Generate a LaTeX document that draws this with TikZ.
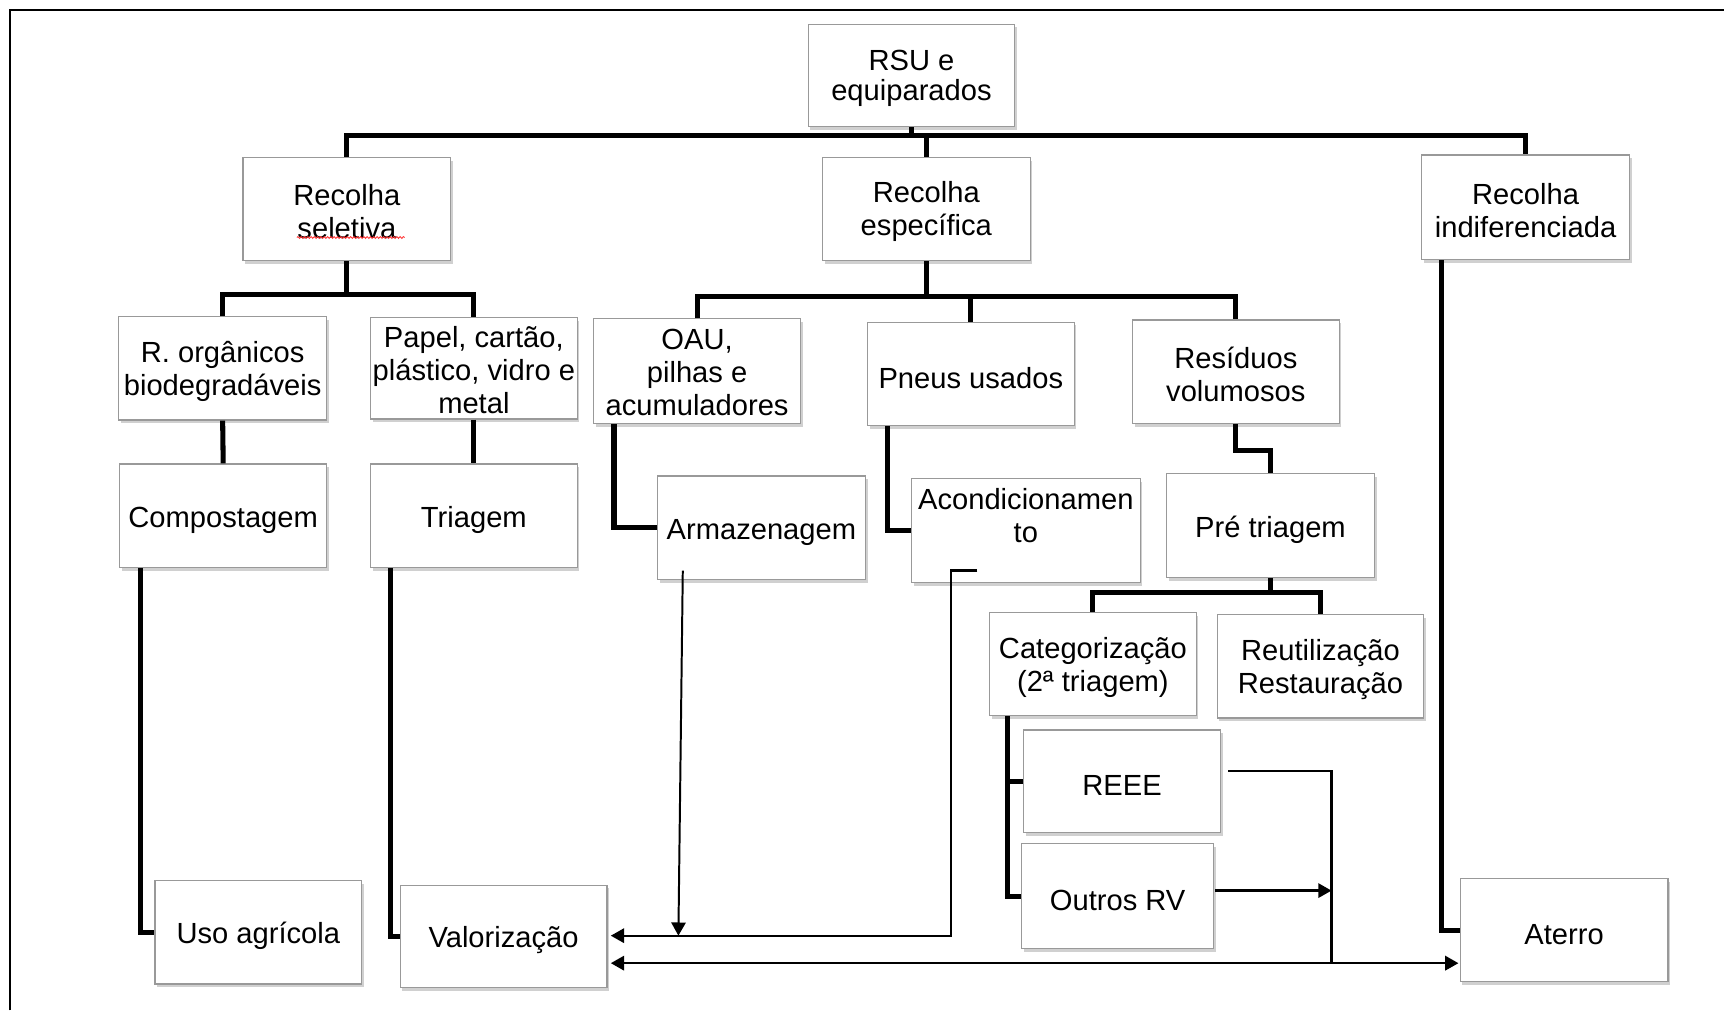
\documentclass[tikz,border=0pt]{standalone}
\usepackage{fontspec}
\setmainfont{Liberation Sans}
\usetikzlibrary{arrows.meta,shadows,decorations.pathmorphing}
\newcommand\tup[1]{\rule{0pt}{#1pt}}
\begin{document}
\begin{tikzpicture}[x=1pt,y=-1pt,
  box/.style={draw=black!40, line width=1.1pt, fill=white, inner sep=0pt, align=center,
    font=\fontsize{26.5}{30}\selectfont, minimum width=188pt, minimum height=94pt,
    drop shadow={shadow xshift=2pt, shadow yshift=-3pt, opacity=0.3, fill=black!60}},
  txt/.style={inner sep=0pt, align=center, font=\fontsize{26.5}{30}\selectfont},
  conn/.style={line width=4.6pt},
  thinline/.style={line width=2.1pt},
  arr/.style={thinline, -{Triangle[length=12pt,width=13pt]}},
  darr/.style={thinline, {Triangle[length=12pt,width=13pt]}-{Triangle[length=12pt,width=13pt]}},
]
\useasboundingbox (0,0) rectangle (1568,919);
\fill[white] (0,0) rectangle (1568,919);
% frame
\draw[line width=2.5pt] (9,919) -- (9,9) -- (1568,9);

% coordinates
\coordinate (topbar) at (0,123);
\coordinate (bar2) at (0,268);
\coordinate (bar3) at (0,270);
\coordinate (bar4) at (0,539);
\coordinate (vline) at (0,851);
\coordinate (lowline) at (0,876);
\coordinate (armout) at (621,519);
\coordinate (armend) at (617,851);
\coordinate (acoout) at (889,519);
\coordinate (acobend) at (865,519);
\coordinate (acodown) at (865,851);
\coordinate (reeeout) at (1117,701);
\coordinate (outout) at (1105,810);
\coordinate (junc) at (1211,876);

% boxes
\node[box, minimum height=93pt, font=\fontsize{26.5}{27.5}\selectfont] (rsu) at (829,68.5) {\tup{24.5}RSU e\\equiparados};
\node[box, minimum width=189pt] (sel) at (315.5,190) {\tup{24.5}Recolha\\seletiva};
\node[box, minimum width=189pt] (esp) at (842.5,190) {\tup{24.5}Recolha\\específica};
\node[box, minimum width=189pt, minimum height=95pt] (ind) at (1387.5,188.5) {\tup{24.5}Recolha\\indiferenciada};
\node[box, minimum width=189pt] (org) at (202.5,335) {\tup{24.5}R. orgânicos\\biodegradáveis};
\node[box, minimum height=92pt] (pap) at (431,335) {\tup{21.5}Papel, cartão,\\plástico, vidro e\\metal};
\node[box, minimum height=95pt] (oau) at (634,337.5) {\tup{21.5}OAU,\\pilhas e\\acumuladores};
\node[box] (pne) at (883,340) {\tup{26.5}Pneus usados};
\node[box] (res) at (1124,338) {\tup{24.5}Resíduos\\volumosos};
\node[box] (com) at (203,469) {\tup{26.5}Compostagem};
\node[box] (tri) at (431,469) {\tup{26.5}Triagem};
\node[box, minimum width=189pt] (arm) at (692.5,480) {\tup{26.5}Armazenagem};
\node[box, minimum width=208pt, minimum height=95pt] (aco) at (933,482.5) {};
\node[txt] (acotxt) at (933,468.5) {Acondicionamen\\to};
\node[box, minimum width=189pt] (pre) at (1155.5,478) {\tup{26.5}Pré triagem};
\node[box] (cat) at (994,604) {\tup{24.5}Categorização\\(2ª triagem)};
\node[box] (reu) at (1201,606) {\tup{24.5}Reutilização\\Restauração};
\node[box, minimum width=179pt, minimum height=93pt] (reee) at (1020.5,710.5) {\tup{26.5}REEE};
\node[box, minimum width=175pt, minimum height=96pt] (out) at (1016.5,815) {\tup{26.5}Outros RV};
\node[box] (uso) at (235,848) {\tup{26.5}Uso agrícola};
\node[box, minimum height=93pt] (val) at (458,851.5) {\tup{26.5}Valorização};
\node[box, minimum width=189pt] (ate) at (1422.5,846) {\tup{26.5}Aterro};

% spell-check squiggle
\draw[red!80, line width=0.8pt, decorate, decoration={snake, amplitude=0.8pt, segment length=3pt}] (270,216) -- (368,216);

% tree connectors
\draw[conn] (rsu.south) -- (rsu.south |- topbar);
\draw[conn] (sel.north) |- (ind.north |- topbar) -- (ind.north);
\draw[conn] (esp.north) -- (esp.north |- topbar);

\draw[conn] (sel.south) -- (sel.south |- bar2);
\draw[conn] (org.north) |- (pap.north |- bar2) -- (pap.north);

\draw[conn] (esp.south) -- (esp.south |- bar3);
\draw[conn] (oau.north) |- (res.north |- bar3) -- (res.north);
\draw[conn] (pne.north) -- (pne.north |- bar3);

\draw[conn] (org.south) -- (com.north);
\draw[conn] (pap.south) -- (tri.north);
\draw[conn] ([xshift=19pt]oau.south west) |- (arm.west);
\draw[conn] ([xshift=19pt]pne.south west) |- (aco.west);
\draw[conn] (res.south) -- ++(0,24) -| (pre.north);

\draw[conn] (pre.south) -- (pre.south |- bar4);
\draw[conn] (cat.north) |- (reu.north |- bar4) -- (reu.north);

\draw[conn] ([xshift=17pt]cat.south west) |- (out.west);
\draw[conn] ([xshift=17pt]cat.south west |- reee.west) -- (reee.west);

\draw[conn] ([xshift=19pt]com.south west) |- (uso.west);
\draw[conn] ([xshift=19pt]tri.south west) |- (val.west);
\draw[conn] ([xshift=19pt]ind.south west) |- (ate.west);

% thin arrows
\draw[arr, line width=1.8pt] (armout) -- (armend);
\draw[arr] (acoout) -- (acobend) -- (acodown) -- ([xshift=3pt]val.east |- vline);
\draw[darr] ([xshift=3pt]val.east |- lowline) -- ([xshift=-1pt]ate.west |- lowline);
\draw[thinline] (reeeout) -| (junc);
\draw[arr] (outout) -- (junc |- outout);
\end{tikzpicture}
\end{document}
